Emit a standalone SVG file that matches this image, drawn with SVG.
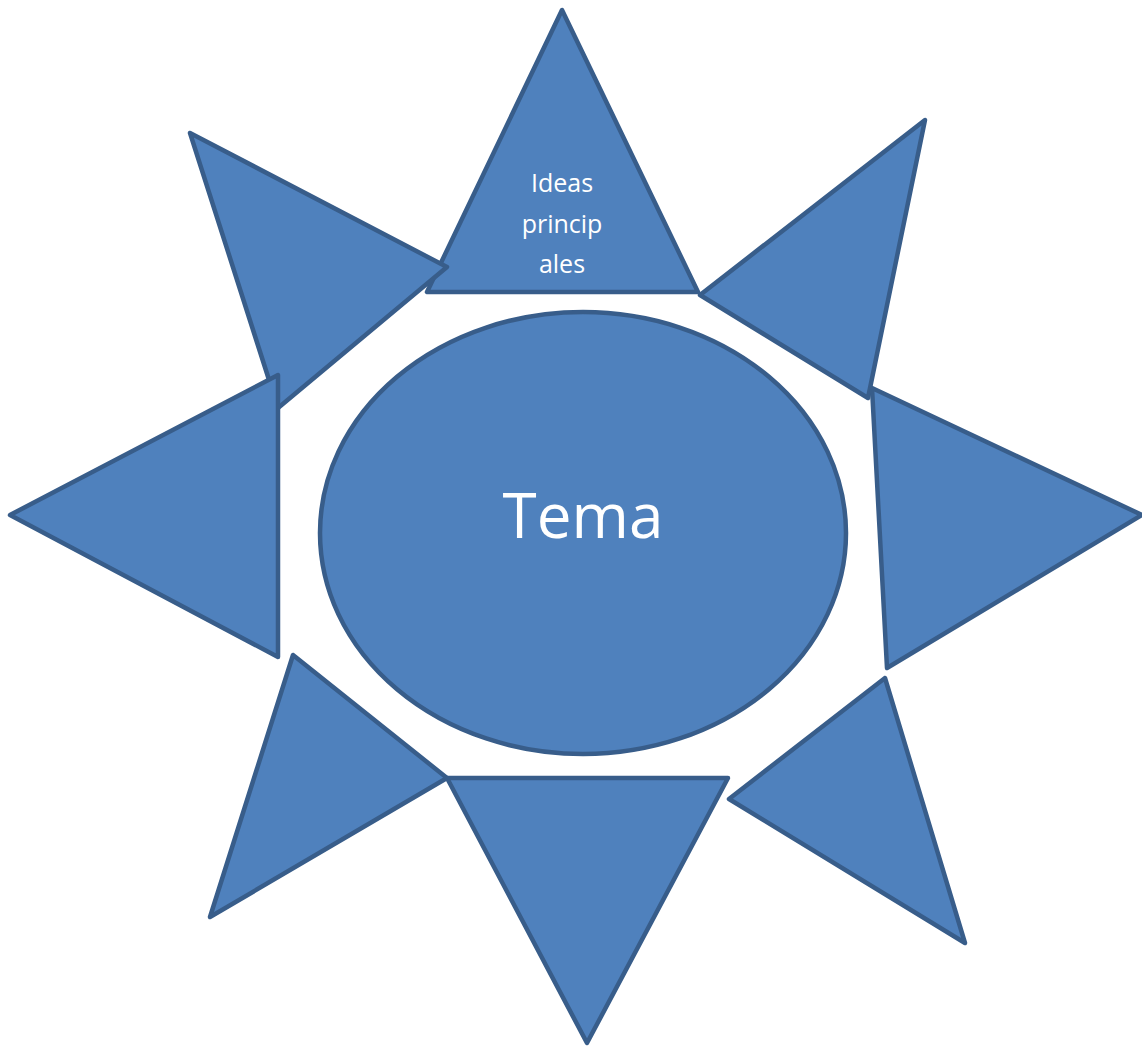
<svg xmlns="http://www.w3.org/2000/svg" width="1142" height="1046" viewBox="0 0 1142 1046">
<style>
.s{fill:#4F81BD;stroke:#385D8A;stroke-width:4.5;stroke-linejoin:round;}
.t{fill:#FFFFFF;font-family:"Open Sans","Liberation Sans",sans-serif;text-anchor:middle;}
</style>
<rect width="1142" height="1046" fill="#FFFFFF"/>
<g id="connectors"></g>
<g id="tri-top">
<polygon class="s" points="562,10 427,292 698,292"/>
<text class="t" font-size="25" x="562" y="192">Ideas</text>
<text class="t" font-size="25" x="562" y="233">princip</text>
<text class="t" font-size="25" x="562" y="273">ales</text>
</g>
<g id="tri-upper-left"><polygon class="s" points="190,133 447,267 278,408"/></g>
<g id="tri-left"><polygon class="s" points="10,515 278,375 278,657"/></g>
<g id="tri-lower-left"><polygon class="s" points="293,655 447,778 210,917"/></g>
<g id="tri-bottom"><polygon class="s" points="447,778 728,778 587,1043"/></g>
<g id="tri-lower-right"><polygon class="s" points="885,678 729,799 965,943"/></g>
<g id="tri-upper-right"><polygon class="s" points="925,120 700,295 868,398"/></g>
<g id="tri-right"><polygon class="s" points="872,388 1142,515 887,668"/></g>
<g id="tema">
<ellipse class="s" cx="583" cy="533" rx="263" ry="221"/>
<text class="t" font-size="62" x="583" y="538">Tema</text>
</g>
</svg>
